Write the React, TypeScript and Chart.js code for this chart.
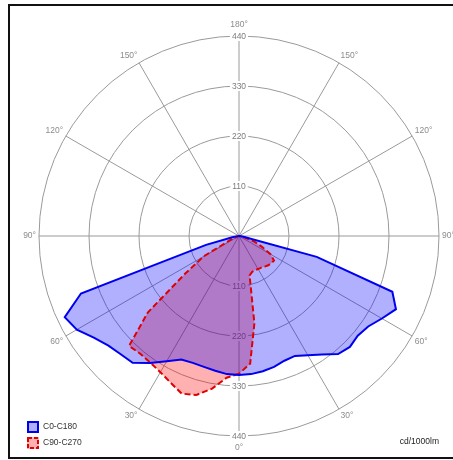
import React, { useEffect, useRef } from 'react';
import { Chart, registerables } from 'chart.js';

// Gamma angles (deg) of the photometric data, 0° = straight down, 180° = straight up
const gammaAngles = [
  0, 5, 10, 15, 20, 25, 30, 35, 40, 45, 50, 55, 60, 65, 70, 75, 80, 85, 90,
  95, 100, 105, 110, 115, 120, 125, 130, 135, 140, 145, 150, 155, 160, 165, 170, 175, 180,
];

// C0-C180 plane: left half (C180) and right half (C0), cd/1000lm
const c180Values = [
  306, 305, 301, 298, 297, 300, 318, 341, 364, 368, 375, 390, 412, 423, 370, 75, 15, 3, 0,
  0, 0, 0, 0, 0, 0, 0, 0, 0, 0, 0, 0, 0, 0, 0, 0, 0, 0,
];
const c0Values = [
  306, 305, 302, 298, 292, 291, 303, 318, 339, 345, 341, 347, 363, 381, 359, 177, 10, 2, 0,
  0, 0, 0, 0, 0, 0, 0, 0, 0, 0, 0, 0, 0, 0, 0, 0, 0, 0,
];

// C90-C270 plane: left half (C270) and right half (C90), cd/1000lm
const c270Values = [
  303, 313, 341, 362, 369, 356, 346, 340, 338, 342, 262, 145, 90, 22, 5, 0, 0, 0, 0,
  0, 0, 0, 0, 0, 0, 0, 0, 0, 0, 0, 0, 0, 0, 0, 0, 0, 0,
];
const c90Values = [
  303, 282, 195, 90, 84, 83, 84, 85, 88, 91, 93, 94, 80, 55, 35, 15, 5, 1, 0,
  0, 0, 0, 0, 0, 0, 0, 0, 0, 0, 0, 0, 0, 0, 0, 0, 0, 0,
];

const ringTicks = [110, 220, 330, 440];
const labelledAngles = [0, 30, 60, 90, 120, 150, 180];
const seriesNames = ['C0-C180', 'C90-C270'];
const unitLabel = 'cd/1000lm';

// Positions around the circle, clockwise from the bottom: left half = gamma, right half = 360 - gamma
const positions: number[] = [];
gammaAngles.forEach((g) => positions.push(g));
for (let k = gammaAngles.length - 2; k >= 1; k--) positions.push(360 - gammaAngles[k]);

function around(left: number[], right: number[]): number[] {
  return positions.map((p) =>
    p <= 180 ? left[gammaAngles.indexOf(p)] : right[gammaAngles.indexOf(360 - p)]
  );
}

const FONT = '8.5px "Liberation Sans", Arial, sans-serif';

const overlayPlugin = {
  id: 'polarOverlay',
  beforeDatasetsDraw(chart: any) {
    if (!chart.scales.r) return;
    const scale = chart.scales.r;
    const ctx = chart.ctx as CanvasRenderingContext2D;
    ctx.save();
    ctx.font = FONT;
    // radial tick labels, on the vertical axis, both up and down
    const downIdx = positions.indexOf(0);
    const upIdx = positions.indexOf(180);
    ctx.textAlign = 'center';
    ctx.textBaseline = 'middle';
    for (const v of ringTicks) {
      for (const idx of [downIdx, upIdx]) {
        const pos = scale.getPointPositionForValue(idx, v);
        const txt = String(v);
        const w = ctx.measureText(txt).width;
        ctx.fillStyle = '#ffffff';
        ctx.fillRect(pos.x - w / 2 - 2, pos.y - 5, w + 4, 10);
        ctx.fillStyle = '#7d7d7d';
        ctx.fillText(txt, pos.x, pos.y + 0.5);
      }
    }
    // angle labels
    ctx.fillStyle = '#8c8c8c';
    positions.forEach((p, i) => {
      const gamma = p <= 180 ? p : 360 - p;
      if (!labelledAngles.includes(gamma)) return;
      const vertical = p === 0 || p === 180;
      const pt = scale.getPointPosition(i, scale.drawingArea + (vertical ? 7 : 3));
      let align: CanvasTextAlign = 'center';
      if (p > 0 && p < 180) align = 'right';
      else if (p > 180) align = 'left';
      let base: CanvasTextBaseline = 'middle';
      if (p === 90 || p === 270) base = 'middle';
      else if (p < 90 || p > 270) base = 'top';
      else base = 'bottom';
      ctx.textAlign = align;
      ctx.textBaseline = base;
      ctx.fillText(gamma + '°', pt.x, pt.y);
    });
    ctx.restore();
  },
  afterDraw(chart: any) {
    if (!chart.scales.r) return;
    const ctx = chart.ctx as CanvasRenderingContext2D;
    ctx.save();
    ctx.font = FONT;
    ctx.textBaseline = 'middle';
    chart.data.datasets.forEach((ds: any, k: number) => {
      const x = 27;
      const y = 421 + k * 16;
      ctx.fillStyle = ds.backgroundColor;
      ctx.fillRect(x, y, 12, 12);
      ctx.strokeStyle = ds.borderColor;
      ctx.lineWidth = 2;
      ctx.setLineDash(ds.borderDash ? [4, 2] : []);
      ctx.strokeRect(x + 1, y + 1, 10, 10);
      ctx.setLineDash([]);
      ctx.fillStyle = '#333333';
      ctx.textAlign = 'left';
      ctx.fillText(seriesNames[k], 43, y + 6);
    });
    ctx.fillStyle = '#222222';
    ctx.textAlign = 'right';
    ctx.fillText(unitLabel, 439, 442);
    ctx.restore();
  },
};

// overlay first so its labels sit beneath the fills drawn by the filler plugin
Chart.register(overlayPlugin, ...registerables);

export default function App() {
  const ref = useRef<HTMLCanvasElement>(null);
  useEffect(() => {
    if (!ref.current) return;
    const chart = new Chart(ref.current, {
      type: 'radar',
      data: {
        labels: positions.map((p) => String(p)),
        datasets: [
          {
            label: seriesNames[0],
            data: around(c180Values, c0Values),
            borderColor: '#0000f0',
            backgroundColor: 'rgba(0,0,255,0.31)',
            borderWidth: 2,
            fill: true,
            pointRadius: 0,
            tension: 0,
          },
          {
            label: seriesNames[1],
            data: around(c270Values, c90Values),
            borderColor: '#e00000',
            backgroundColor: 'rgba(255,0,0,0.31)',
            borderWidth: 2,
            borderDash: [6, 3],
            fill: true,
            pointRadius: 0,
            tension: 0,
          },
        ],
      },
      options: {
        responsive: false,
        animation: false,
        layout: { padding: { left: 39, right: 14, top: 36, bottom: 24 } },
        plugins: {
          legend: { display: false },
          tooltip: { enabled: false },
          filler: { drawTime: 'beforeDatasetsDraw' },
        },
        scales: {
          r: {
            min: 0,
            max: 440,
            startAngle: 180,
            ticks: { display: false, stepSize: 110 },
            pointLabels: { display: false },
            grid: { circular: true, color: '#9a9a9a', lineWidth: 1 },
            angleLines: {
              display: true,
              color: '#9a9a9a',
              lineWidth: (c: any) => (positions[c.index] % 30 === 0 ? 1 : 0),
            },
          },
        },
      },
    } as any);
    return () => chart.destroy();
  }, []);

  return (
    <div style={{ position: 'fixed', left: 0, top: 0, width: 453, height: 460, background: '#fff', overflow: 'hidden' }}>
      <div
        style={{
          position: 'absolute',
          left: 8,
          top: 4,
          width: 480,
          height: 455,
          boxSizing: 'border-box',
          border: '2px solid #111',
        }}
      />
      <canvas
        ref={ref}
        width={453}
        height={460}
        style={{ position: 'absolute', left: 0, top: 0, width: 453, height: 460 }}
      />
    </div>
  );
}
